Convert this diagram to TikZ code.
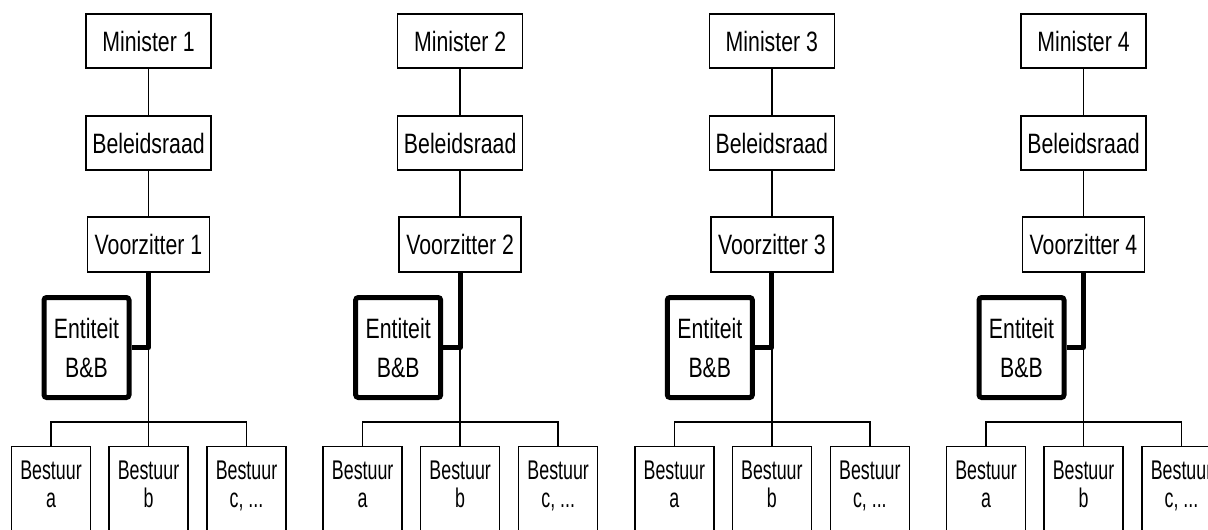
\documentclass[tikz,border=0pt]{standalone}
\usepackage{fontspec}
\setmainfont{Liberation Sans}[FakeStretch=0.76]
\newfontfamily\narrowfont{Liberation Sans}[FakeStretch=0.66]
\begin{document}
\begin{tikzpicture}[x=0.75pt,y=-0.75pt,
  thinline/.style={line width=1.1pt},
  thickline/.style={line width=3.75pt,line join=round},
  box/.style={draw,thinline,rectangle,inner sep=0pt,align=center,
    font=\fontsize{21}{25}\selectfont},
  entbox/.style={draw,line width=3.75pt,rectangle,rounded corners=2pt,inner sep=0pt,
    minimum width=85*0.75pt,minimum height=100*0.75pt,align=center,
    font=\fontsize{21}{29.25}\selectfont},
  bbox/.style={draw,thinline,rectangle,inner sep=0pt,anchor=north,
    minimum width=79*0.75pt,minimum height=120*0.75pt},
  btext/.style={inner sep=0pt,anchor=north,align=center,
    font=\narrowfont\fontsize{20.25}{21}\selectfont}]
\useasboundingbox (0,0) rectangle (1208,529);
\clip (0,0) rectangle (1208,529);
\foreach \k in {0,1,2,3}{
  \pgfmathsetmacro{\c}{148.5+311.67*\k}
  \pgfmathtruncatemacro{\n}{\k+1}
  \node[box,minimum width=125*0.75pt,minimum height=54*0.75pt] (min\k) at (\c,41) {Minister \n};
  \node[box,minimum width=125*0.75pt,minimum height=54*0.75pt] (bel\k) at (\c,143) {Beleidsraad};
  \node[box,minimum width=122*0.75pt,minimum height=55*0.75pt] (voo\k) at (\c,244.5) {Voorzitter \n};
  \node[entbox] (ent\k) at (\c-62,347.5) {Entiteit\\B\&B};
  \coordinate (j\k) at (\c,347.5);
  \node[bbox] (ba\k) at (\c-97.5,446) {};
  \node[bbox] (bb\k) at (\c,446) {};
  \node[bbox] (bc\k) at (\c+98,446) {};
  \node[btext] (ta\k) at ([yshift=-15*0.75pt]ba\k.north) {Bestuur\\a};
  \node[btext] (tb\k) at ([yshift=-15*0.75pt]bb\k.north) {Bestuur\\b};
  \node[btext] (tc\k) at ([yshift=-15*0.75pt]bc\k.north) {Bestuur\\c, ...};
  \draw[thinline] (min\k.south) -- (bel\k.north);
  \draw[thinline] (bel\k.south) -- (voo\k.north);
  \draw[thickline] (voo\k.south) -- (j\k) -- (ent\k.east);
  \draw[thinline] (j\k) -- (bb\k.north);
  \draw[thinline] (ba\k.north) -- ++(0,-24) -| (bc\k.north);
}
\end{tikzpicture}
\end{document}
